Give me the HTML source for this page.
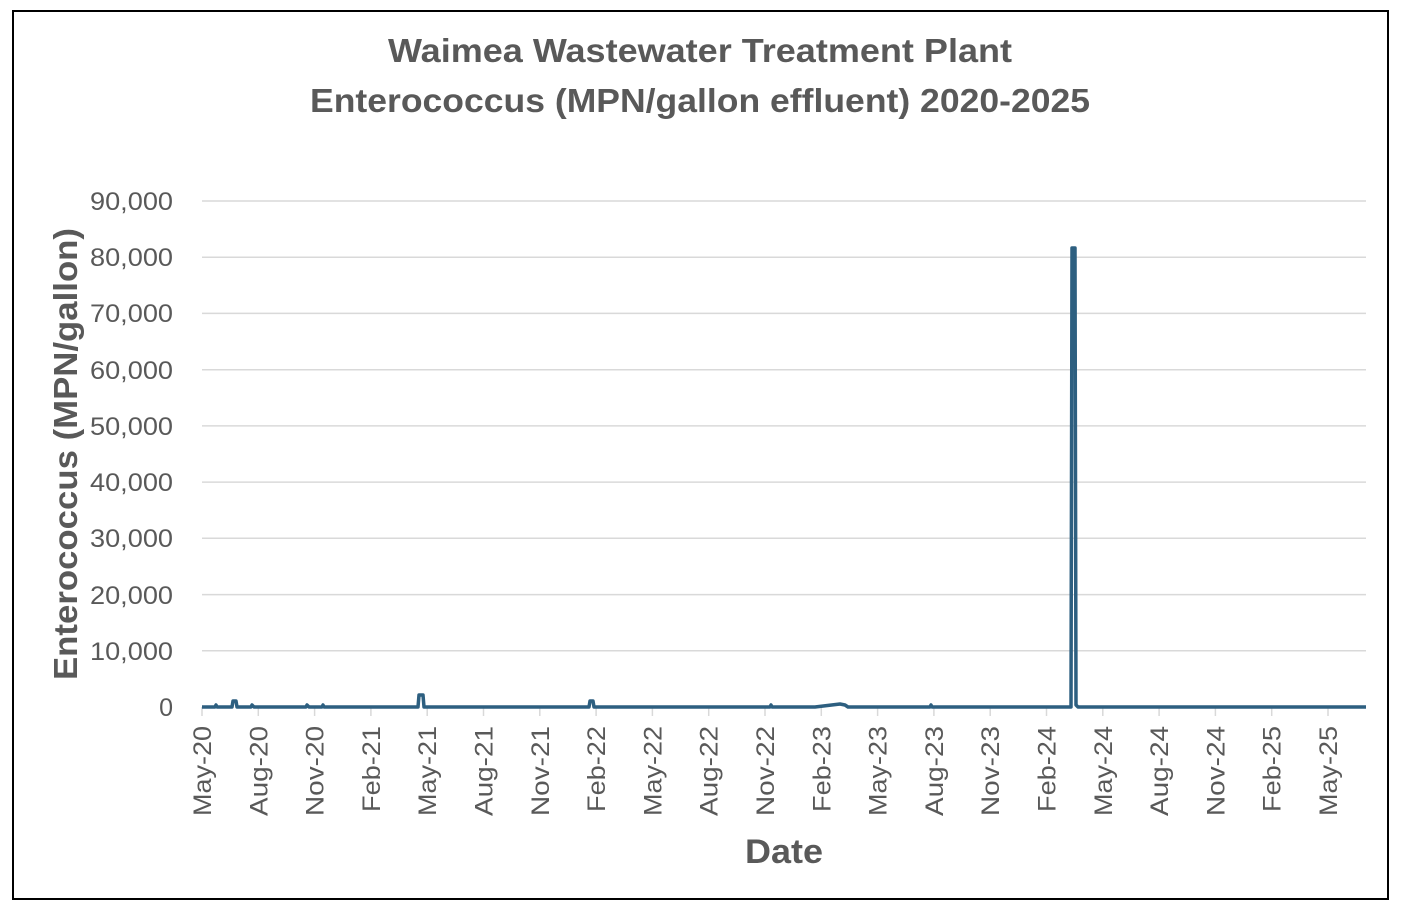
<!DOCTYPE html>
<html><head><meta charset="utf-8"><style>
html,body{margin:0;padding:0;background:#fff;}
svg{display:block;font-family:"Liberation Sans",Arial,sans-serif;}
</style></head><body>
<svg width="1402" height="916" viewBox="0 0 1402 916">
<rect x="0" y="0" width="1402" height="916" fill="#fff"/>
<rect x="13" y="11" width="1375" height="888" fill="#fff" stroke="#000" stroke-width="2"/>
<text x="388" y="62" textLength="624" lengthAdjust="spacingAndGlyphs" font-size="33" font-weight="bold" fill="#595959">Waimea Wastewater Treatment Plant</text>
<text x="310" y="112" textLength="780" lengthAdjust="spacingAndGlyphs" font-size="33" font-weight="bold" fill="#595959">Enterococcus (MPN/gallon effluent) 2020-2025</text>
<g stroke="#d9d9d9" stroke-width="1.5">
<line x1="202" x2="1366" y1="201" y2="201"/>
<line x1="202" x2="1366" y1="257.2" y2="257.2"/>
<line x1="202" x2="1366" y1="313.4" y2="313.4"/>
<line x1="202" x2="1366" y1="369.7" y2="369.7"/>
<line x1="202" x2="1366" y1="425.9" y2="425.9"/>
<line x1="202" x2="1366" y1="482.1" y2="482.1"/>
<line x1="202" x2="1366" y1="538.3" y2="538.3"/>
<line x1="202" x2="1366" y1="594.6" y2="594.6"/>
<line x1="202" x2="1366" y1="650.8" y2="650.8"/>
</g>
<g font-size="25" fill="#595959">
<text x="90" y="210" textLength="83" lengthAdjust="spacingAndGlyphs">90,000</text>
<text x="90" y="266" textLength="83" lengthAdjust="spacingAndGlyphs">80,000</text>
<text x="90" y="322" textLength="83" lengthAdjust="spacingAndGlyphs">70,000</text>
<text x="90" y="379" textLength="83" lengthAdjust="spacingAndGlyphs">60,000</text>
<text x="90" y="435" textLength="83" lengthAdjust="spacingAndGlyphs">50,000</text>
<text x="90" y="491" textLength="83" lengthAdjust="spacingAndGlyphs">40,000</text>
<text x="90" y="547" textLength="83" lengthAdjust="spacingAndGlyphs">30,000</text>
<text x="90" y="604" textLength="83" lengthAdjust="spacingAndGlyphs">20,000</text>
<text x="90" y="660" textLength="83" lengthAdjust="spacingAndGlyphs">10,000</text>
<text x="173" y="716" text-anchor="end">0</text>
</g>
<text transform="translate(77,680) rotate(-90)" textLength="452" lengthAdjust="spacingAndGlyphs" font-size="33" font-weight="bold" fill="#595959">Enterococcus (MPN/gallon)</text>
<g stroke="#d9d9d9" stroke-width="1.5">
<line x1="202" x2="202" y1="707" y2="716"/><line x1="258.3" x2="258.3" y1="707" y2="716"/><line x1="314.6" x2="314.6" y1="707" y2="716"/><line x1="370.9" x2="370.9" y1="707" y2="716"/><line x1="427.2" x2="427.2" y1="707" y2="716"/><line x1="483.5" x2="483.5" y1="707" y2="716"/><line x1="539.8" x2="539.8" y1="707" y2="716"/><line x1="596.1" x2="596.1" y1="707" y2="716"/><line x1="652.4" x2="652.4" y1="707" y2="716"/><line x1="708.7" x2="708.7" y1="707" y2="716"/><line x1="765" x2="765" y1="707" y2="716"/><line x1="821.3" x2="821.3" y1="707" y2="716"/><line x1="877.6" x2="877.6" y1="707" y2="716"/><line x1="933.9" x2="933.9" y1="707" y2="716"/><line x1="990.2" x2="990.2" y1="707" y2="716"/><line x1="1046.5" x2="1046.5" y1="707" y2="716"/><line x1="1102.8" x2="1102.8" y1="707" y2="716"/><line x1="1159.1" x2="1159.1" y1="707" y2="716"/><line x1="1215.4" x2="1215.4" y1="707" y2="716"/><line x1="1271.7" x2="1271.7" y1="707" y2="716"/><line x1="1328" x2="1328" y1="707" y2="716"/>
</g>
<g font-size="25" fill="#595959" text-anchor="end" lengthAdjust="spacingAndGlyphs">
<text transform="translate(211,726) rotate(-90)" textLength="90" lengthAdjust="spacingAndGlyphs">May-20</text>
<text transform="translate(267.3,726) rotate(-90)" textLength="90" lengthAdjust="spacingAndGlyphs">Aug-20</text>
<text transform="translate(323.6,726) rotate(-90)" textLength="90" lengthAdjust="spacingAndGlyphs">Nov-20</text>
<text transform="translate(379.9,726) rotate(-90)" textLength="86" lengthAdjust="spacingAndGlyphs">Feb-21</text>
<text transform="translate(436.2,726) rotate(-90)" textLength="90" lengthAdjust="spacingAndGlyphs">May-21</text>
<text transform="translate(492.5,726) rotate(-90)" textLength="90" lengthAdjust="spacingAndGlyphs">Aug-21</text>
<text transform="translate(548.8,726) rotate(-90)" textLength="90" lengthAdjust="spacingAndGlyphs">Nov-21</text>
<text transform="translate(605.1,726) rotate(-90)" textLength="86" lengthAdjust="spacingAndGlyphs">Feb-22</text>
<text transform="translate(661.4,726) rotate(-90)" textLength="90" lengthAdjust="spacingAndGlyphs">May-22</text>
<text transform="translate(717.7,726) rotate(-90)" textLength="90" lengthAdjust="spacingAndGlyphs">Aug-22</text>
<text transform="translate(774,726) rotate(-90)" textLength="90" lengthAdjust="spacingAndGlyphs">Nov-22</text>
<text transform="translate(830.3,726) rotate(-90)" textLength="86" lengthAdjust="spacingAndGlyphs">Feb-23</text>
<text transform="translate(886.6,726) rotate(-90)" textLength="90" lengthAdjust="spacingAndGlyphs">May-23</text>
<text transform="translate(942.9,726) rotate(-90)" textLength="90" lengthAdjust="spacingAndGlyphs">Aug-23</text>
<text transform="translate(999.2,726) rotate(-90)" textLength="90" lengthAdjust="spacingAndGlyphs">Nov-23</text>
<text transform="translate(1055.5,726) rotate(-90)" textLength="86" lengthAdjust="spacingAndGlyphs">Feb-24</text>
<text transform="translate(1111.8,726) rotate(-90)" textLength="90" lengthAdjust="spacingAndGlyphs">May-24</text>
<text transform="translate(1168.1,726) rotate(-90)" textLength="90" lengthAdjust="spacingAndGlyphs">Aug-24</text>
<text transform="translate(1224.4,726) rotate(-90)" textLength="90" lengthAdjust="spacingAndGlyphs">Nov-24</text>
<text transform="translate(1280.7,726) rotate(-90)" textLength="86" lengthAdjust="spacingAndGlyphs">Feb-25</text>
<text transform="translate(1337,726) rotate(-90)" textLength="90" lengthAdjust="spacingAndGlyphs">May-25</text>
</g>
<text x="745" y="863" textLength="78" lengthAdjust="spacingAndGlyphs" font-size="34" font-weight="bold" fill="#595959">Date</text>
<path d="M202 707 L215 707 L216 705 L217 707 L232 707 L233 701 L236 701 L237 707 L251 707 L252 705 L254 707 L306 707 L307 705 L309 707 L322 707 L323 705 L324 707 L418 707 L419 695 L423 695 L424 707 L589 707 L590 701 L593 701 L594 707 L770 707 L771 705 L772 707 L815 707 L840 704 L845 705 L848 707 L930 707 L931 705 L932 707 L1071 707 L1072 248 L1075 248 L1076 705 L1078 707 L1366 707" fill="none" stroke="#2d5f80" stroke-width="3.5" stroke-linejoin="round"/>
</svg>
</body></html>
